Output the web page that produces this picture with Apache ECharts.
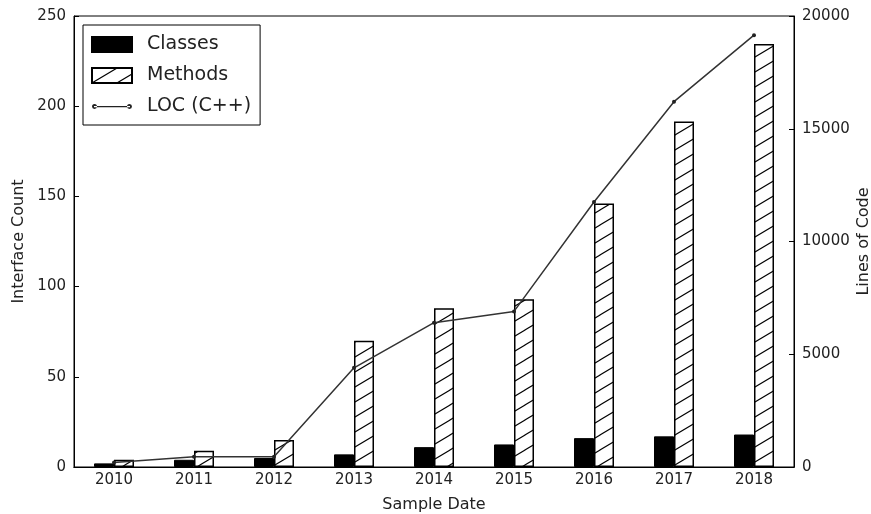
<!DOCTYPE html>
<html>
<head>
<meta charset="utf-8">
<script src="https://cdn.jsdelivr.net/npm/echarts@6/dist/echarts.min.js"></script>
<style>
  html, body { margin: 0; padding: 0; background: #fff; }
  #chart { width: 871px; height: 514px; }
</style>
</head>
<body>
<div id="chart"></div>
<script>
  // data
  var years = ['2010', '2011', '2012', '2013', '2014', '2015', '2016', '2017', '2018'];
  var classes = [2, 4, 5, 7, 11, 12.5, 16, 17, 18];
  var methods = [4, 9, 15, 70, 88, 93, 146, 191.5, 234.5];
  var loc = [200, 450, 450, 4400, 6400, 6900, 11750, 16200, 19150];

  // hatch pattern for the Methods bars
  var hatch = document.createElement('canvas');
  hatch.width = 25;
  hatch.height = 15;
  var hc = hatch.getContext('2d');
  hc.fillStyle = '#fff';
  hc.fillRect(0, 0, 25, 15);
  hc.strokeStyle = '#000';
  hc.lineWidth = 1.1;
  hc.beginPath();
  hc.moveTo(-25, 30); hc.lineTo(50, -15);
  hc.moveTo(-25, 15); hc.lineTo(25, -15);
  hc.moveTo(0, 30); hc.lineTo(50, 0);
  hc.stroke();

  // legend icon for the line: segment with a dot on each end
  var locIcon = 'path://M0,0h0.01v0.01h-0.01z M0,15h0.01v0.01h-0.01z ' +
    'M2,6.9h36v1.4h-36z ' +
    'M0,7.6a2.5,2.5 0 1,0 5,0a2.5,2.5 0 1,0 -5,0z M35,7.6a2.5,2.5 0 1,0 5,0a2.5,2.5 0 1,0 -5,0z';

  var txt = '#222';
  var font = 'DejaVu Sans';

  var myChart = echarts.init(document.getElementById('chart'));

  var option = {
    animation: false,
    backgroundColor: '#fff',
    textStyle: { fontFamily: font, color: txt },
    grid: {
      left: 74, right: 77, top: 16, bottom: 47,
      outerBoundsMode: 'none',
      containLabel: false,
      show: true, borderColor: '#000', borderWidth: 1
    },
    legend: {
      orient: 'vertical',
      left: 83, top: 25,
      padding: [10, 9, 9, 8],
      backgroundColor: '#fff',
      borderColor: '#000',
      borderWidth: 1,
      borderRadius: 0,
      itemWidth: 40,
      itemHeight: 15,
      itemGap: 12,
      textStyle: { fontFamily: font, fontSize: 19, color: txt, padding: [0, 0, 0, 10] },
      data: [
        { name: 'Classes', icon: 'rect' },
        { name: 'Methods', icon: 'rect' },
        { name: 'LOC (C++)', icon: locIcon }
      ]
    },
    xAxis: [{
      type: 'category',
      data: years,
      axisLine: { lineStyle: { color: '#000' } },
      axisTick: { inside: true, length: 5, alignWithLabel: true, lineStyle: { color: '#000' } },
      axisLabel: { fontFamily: font, fontSize: 15, color: txt, margin: 6 },
      name: 'Sample Date',
      nameLocation: 'middle',
      nameGap: 30,
      nameMoveOverlap: false,
      nameTextStyle: { fontFamily: font, fontSize: 16, color: txt }
    }, {
      type: 'category',
      data: years,
      position: 'top',
      axisLine: { lineStyle: { color: '#000' } },
      axisTick: { inside: true, length: 5, alignWithLabel: true, lineStyle: { color: '#000' } },
      axisLabel: { show: false }
    }],
    yAxis: [{
      type: 'value',
      min: 0, max: 250, interval: 50,
      splitLine: { show: false },
      axisLine: { show: true, lineStyle: { color: '#000' } },
      axisTick: { show: true, inside: true, length: 5, lineStyle: { color: '#000' } },
      axisLabel: { fontFamily: font, fontSize: 15, color: txt, margin: 8 },
      name: 'Interface Count',
      nameLocation: 'middle',
      nameGap: 47,
      nameMoveOverlap: false,
      nameTextStyle: { fontFamily: font, fontSize: 16, color: txt }
    }, {
      type: 'value',
      min: 0, max: 20000, interval: 5000,
      position: 'right',
      splitLine: { show: false },
      axisLine: { show: true, lineStyle: { color: '#000' } },
      axisTick: { show: true, inside: true, length: 5, lineStyle: { color: '#000' } },
      axisLabel: {
        fontFamily: font, fontSize: 15, color: txt, margin: 8,
        formatter: function (v) { return String(v); }
      },
      name: 'Lines of Code',
      nameLocation: 'middle',
      nameGap: 62,
      nameMoveOverlap: false,
      nameTextStyle: { fontFamily: font, fontSize: 16, color: txt }
    }],
    series: [{
      name: 'Classes',
      type: 'bar',
      data: classes,
      barWidth: 20,
      barGap: '0%',
      itemStyle: { color: '#000', borderColor: '#000', borderWidth: 1 }
    }, {
      name: 'Methods',
      type: 'bar',
      data: methods,
      barWidth: 20,
      itemStyle: {
        color: { image: hatch, repeat: 'repeat' },
        borderColor: '#000',
        borderWidth: 1.5
      }
    }, {
      name: 'LOC (C++)',
      type: 'line',
      yAxisIndex: 1,
      data: loc,
      z: 5,
      symbol: 'circle',
      symbolSize: 4,
      lineStyle: { color: '#333', width: 1.5 },
      itemStyle: { color: '#222' }
    }]
  };

  myChart.setOption(option);
</script>
</body>
</html>
